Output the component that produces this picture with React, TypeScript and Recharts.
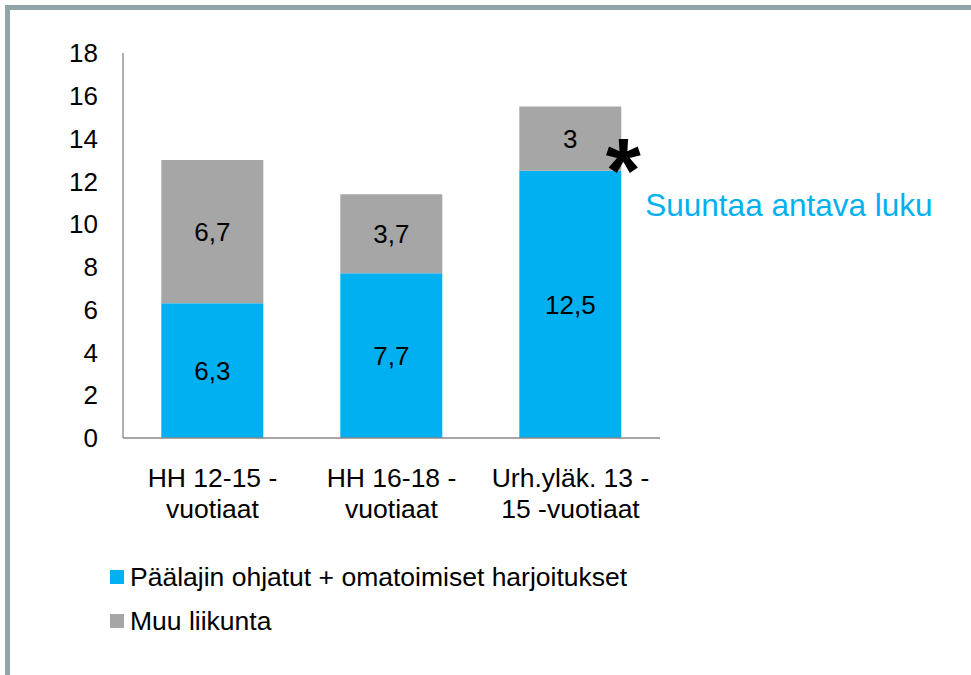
import React from "react";
import { BarChart, Bar, XAxis, YAxis, LabelList } from "recharts";

const categories = ["HH 12-15 -\nvuotiaat", "HH 16-18 -\nvuotiaat", "Urh.yläk. 13 -\n15 -vuotiaat"];
const mainSport = [6.3, 7.7, 12.5];
const otherExercise = [6.7, 3.7, 3];
const yTicks = [0, 2, 4, 6, 8, 10, 12, 14, 16, 18];
const seriesNames = ["Päälajin ohjatut + omatoimiset harjoitukset", "Muu liikunta"];
const seriesColors = ["#00B0F0", "#A6A6A6"];
const annotatedIndex = 2;
const annotationText = "Suuntaa antava luku";

const data = categories.map((c, i) => ({ name: c, main: mainSport[i], other: otherExercise[i] }));

const FONT = "'Liberation Sans', Arial, sans-serif";

const fmt = (v: any) => String(v).replace(".", ",");

const XTick = (props: any) => {
  const { x, y, payload } = props;
  const lines = String(payload.value).split("\n");
  return (
    <g>
      {lines.map((l: string, i: number) => (
        <text key={i} x={x} y={y + 41 + i * 31} textAnchor="middle" fontSize={26.5} fill="#000" fontFamily={FONT}>
          {l}
        </text>
      ))}
    </g>
  );
};

const Annotation = (props: any) => {
  const { x, y, width, index } = props;
  if (index !== annotatedIndex) return null;
  const rx = x + width;
  return (
    <g>
      <text x={rx + 2} y={y + 31} textAnchor="middle" fontSize={90} fontWeight="bold" fill="#000" fontFamily={FONT}>
        *
      </text>
      <text x={rx + 24} y={y + 45} fontSize={31.5} fill="#00B0F0" fontFamily={FONT}>
        {annotationText}
      </text>
    </g>
  );
};

export default function App() {
  return (
    <div style={{ position: "absolute", left: 0, top: 0, width: 971, height: 675, background: "#fff", overflow: "hidden", fontFamily: FONT }}>
      <div
        style={{
          position: "absolute",
          left: 5,
          top: 5,
          width: 980,
          height: 690,
          borderTop: "5px solid #8FA5A8",
          borderLeft: "5px solid #8FA5A8",
        }}
      />
      <div style={{ position: "absolute", left: 0, top: 0 }}>
        <BarChart width={971} height={675} data={data} margin={{ top: 53, right: 311, left: 0, bottom: 177 }} barCategoryGap="21.4%">
          <YAxis
            width={123}
            domain={[0, 18]}
            ticks={yTicks}
            interval={0}
            tickLine={false}
            tickMargin={19}
            axisLine={{ stroke: "#888888", strokeWidth: 1.3 }}
            tick={{ fontSize: 26, fill: "#000", fontFamily: FONT }}
          />
          <XAxis
            dataKey="name"
            height={60}
            tickLine={false}
            axisLine={{ stroke: "#888888", strokeWidth: 1.3 }}
            tick={<XTick />}
            interval={0}
          />
          <Bar dataKey="main" stackId="a" fill={seriesColors[0]} isAnimationActive={false}>
            <LabelList dataKey="main" position="center" formatter={fmt} style={{ fontSize: 26, fill: "#000", fontFamily: FONT }} />
            <LabelList dataKey="main" content={<Annotation />} />
          </Bar>
          <Bar dataKey="other" stackId="a" fill={seriesColors[1]} isAnimationActive={false}>
            <LabelList dataKey="other" position="center" formatter={fmt} style={{ fontSize: 26, fill: "#000", fontFamily: FONT }} />
          </Bar>
        </BarChart>
      </div>
      {seriesNames.map((n, i) => (
        <div
          key={n}
          style={{
            position: "absolute",
            left: 110,
            top: 562 + i * 44,
            height: 30,
            display: "flex",
            alignItems: "center",
            fontSize: 26.5,
            lineHeight: "30px",
            color: "#000",
            whiteSpace: "nowrap",
          }}
        >
          <span style={{ display: "inline-block", width: 14, height: 14, background: seriesColors[i], marginRight: 6 }} />
          <span>{n}</span>
        </div>
      ))}
    </div>
  );
}
